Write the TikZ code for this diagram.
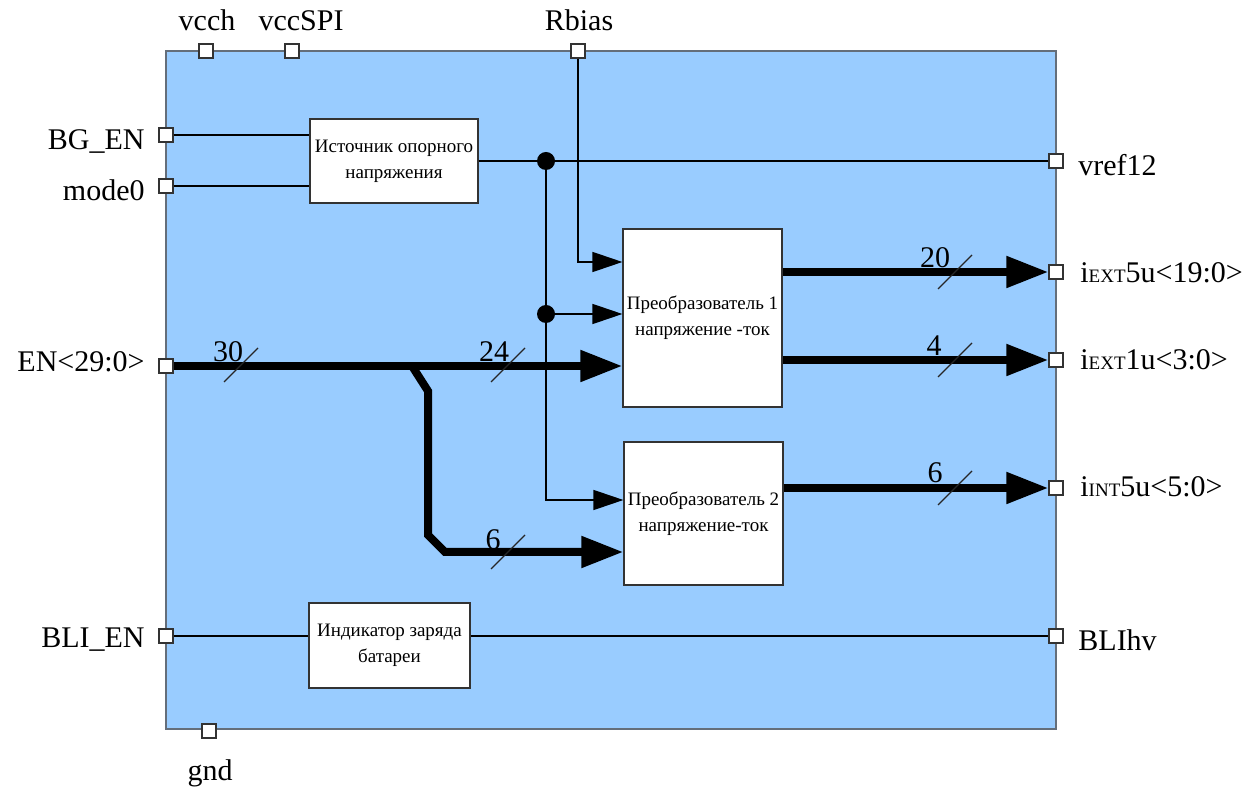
\documentclass[tikz,border=0pt]{standalone}
\usepackage{fontspec}
\setmainfont{Liberation Serif}
\usetikzlibrary{arrows.meta}
\definecolor{panelblue}{RGB}{153,204,255}
\definecolor{panelframe}{RGB}{100,110,122}
\newcommand{\lowcaps}[1]{{\fontsize{9.5}{10}\selectfont #1}}
\tikzset{
  pin box/.style={
    draw=black!80,
    fill=white,
    minimum size=7pt,
    inner sep=0pt,
    line width=0.6pt,
  },
  block/.style={
    draw=black!80,
    fill=white,
    align=center,
    inner sep=1pt,
    line width=0.6pt,
    font=\fontsize{9.5}{13}\selectfont,
  },
  pin label/.style={
    inner sep=0pt,
    font=\fontsize{15}{18}\selectfont,
  },
  bus num/.style={
    inner sep=0pt,
    font=\fontsize{15}{18}\selectfont,
  },
  junction/.style={circle, fill=black, minimum size=9pt, inner sep=0pt},
  wire/.style={line width=0.7pt, draw=black},
  sig/.style={wire, -{Triangle[length=15pt, width=10pt]}},
  bus/.style={line width=4pt, -{Triangle[length=21pt, width=15pt]}},
  bus mark/.style={line width=0.6pt, draw=black!85},
}

\begin{document}
\begin{tikzpicture}[x=0.5pt, y=-0.5pt]
      \useasboundingbox (0,0) rectangle (1253,790);
      \draw[fill=panelblue, draw=panelframe, line width=1pt] (166,51) rectangle (1056,729);

      % blocks
      \node[block, minimum width=84pt, minimum height=42pt] (ref) at (394,161) {Источник опорного\\напряжения};
      \node[block, minimum width=79.5pt, minimum height=89pt] (conv1) at (702.5,318) {Преобразователь 1\\напряжение -ток};
      \node[block, minimum width=79.5pt, minimum height=71.5pt] (conv2) at (703.5,513.5) {Преобразователь 2\\напряжение-ток};
      \node[block, minimum width=80.5pt, minimum height=42.5pt] (bli) at (389.5,645.5) {Индикатор заряда\\батареи};

      % pins
      \node[pin box] (vcch) at (206,51) {};
      \node[pin box] (vccspi) at (292,51) {};
      \node[pin box] (rbias) at (578,51) {};
      \node[pin box] (bgen) at (166,135) {};
      \node[pin box] (mode) at (166,186) {};
      \node[pin box] (en) at (166,366) {};
      \node[pin box] (blien) at (166,636) {};
      \node[pin box] (vref) at (1056,161) {};
      \node[pin box] (iext5) at (1056,272) {};
      \node[pin box] (iext1) at (1056,360) {};
      \node[pin box] (iint5) at (1056,488) {};
      \node[pin box] (blihv) at (1056,636) {};
      \node[pin box] (gnd) at (209,731) {};

      % thin wires
      \draw[wire] (bgen.east) -- (bgen.east -| ref.west);
      \draw[wire] (mode.east) -- (mode.east -| ref.west);
      \draw[wire] (ref.east) -- (vref.west);
      \node[junction] (j1) at (546,161) {};
      \node[junction] (j2) at (546,314) {};
      \draw[wire] (j1) -- (j2);
      \draw[sig] (j2) -- (j2 -| conv1.west);
      \draw[sig] (j2) |- (conv2.west |- 0,500);
      \draw[sig] (rbias.south) |- (conv1.west |- 0,262);
      \draw[wire] (blien.east) -- (blien.east -| bli.west);
      \draw[wire] (bli.east |- blihv) -- (blihv.west);

      % buses
      \coordinate (split) at (412,366);
      \draw[bus] (en.east) -- (en.east -| conv1.west);
      \draw[bus] (split) -- ++(16,25) -- ++(0,144) -- ++(17,17) -- (conv2.west |- 0,552);
      \draw[bus] (conv1.east |- iext5) -- (iext5.west);
      \draw[bus] (conv1.east |- iext1) -- (iext1.west);
      \draw[bus] (conv2.east |- iint5) -- (iint5.west);

      % bus widths
      \draw[bus mark] (224,382) -- (258,348);
      \node[bus num] (w30) at (228,352) {30};
      \draw[bus mark] (491,382) -- (525,348);
      \node[bus num] (w24) at (494,352) {24};
      \draw[bus mark] (491,569) -- (525,535);
      \node[bus num] (w6a) at (493,540) {6};
      \draw[bus mark] (938,289) -- (972,255);
      \node[bus num] (w20) at (935,258) {20};
      \draw[bus mark] (938,377) -- (972,343);
      \node[bus num] (w4) at (934,346) {4};
      \draw[bus mark] (938,505) -- (972,471);
      \node[bus num] (w6b) at (935,473) {6};

      % labels
      \node[pin label, anchor=base] at (207,31) {vcch};
      \node[pin label, anchor=base] at (301,31) {vccSPI};
      \node[pin label, anchor=base] at (579,31) {Rbias};
      \node[pin label, anchor=base east] at (145,150) {BG\_EN};
      \node[pin label, anchor=base east] at (145,201) {mode0};
      \node[pin label, anchor=base east] at (145,372) {EN<29:0>};
      \node[pin label, anchor=base east] at (145,647) {BLI\_EN};
      \node[pin label, anchor=base] at (210,780) {gnd};
      \node[pin label, anchor=base west] at (1078,176) {vref12};
      \node[pin label, anchor=base west] at (1080,283) {i\lowcaps{EXT}5u<19:0>};
      \node[pin label, anchor=base west] at (1080,370) {i\lowcaps{EXT}1u<3:0>};
      \node[pin label, anchor=base west] at (1080,497) {i\lowcaps{INT}5u<5:0>};
      \node[pin label, anchor=base west] at (1078,651) {BLIhv};
\end{tikzpicture}
\end{document}
